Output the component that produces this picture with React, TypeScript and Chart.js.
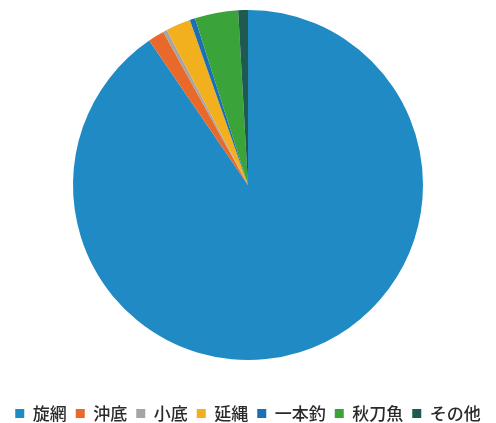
import React, { useEffect, useRef } from "react";
import { Chart, registerables } from "chart.js";

Chart.register(...registerables);

const categories = ["旋網", "沖底", "小底", "延縄", "一本釣", "秋刀魚", "その他"];
const shares = [90.6, 1.5, 0.36, 2.3, 0.5, 4.0, 0.9];
const sliceColors = ["#1F8AC4", "#E8692A", "#A5A5A5", "#F2B01E", "#1A6FB5", "#3AA33A", "#1E5A50"];

export default function App() {
  const ref = useRef<HTMLCanvasElement | null>(null);
  useEffect(() => {
    if (!ref.current) return;
    const chart = new Chart(ref.current, {
      type: "pie",
      data: {
        labels: categories,
        datasets: [
          {
            data: shares,
            backgroundColor: sliceColors,
            borderWidth: 0,
            radius: 175,
          },
        ],
      },
      options: {
        animation: false,
        responsive: true,
        maintainAspectRatio: false,
        layout: { padding: 0 },
        plugins: {
          tooltip: { enabled: false },
          legend: {
            position: "bottom",
            title: {
              display: true,
              text: "",
              font: { size: 10 },
              padding: { top: 7, bottom: 7 },
            },
            labels: {
              boxWidth: 9,
              boxHeight: 9,
              padding: 9,
              color: "#2a2a2a",
              font: { size: 17, weight: "500", family: "'Noto Sans CJK JP', 'Noto Sans', sans-serif" },
            },
          },
        },
      },
    });
    return () => chart.destroy();
  }, []);
  return (
    <div style={{ position: "fixed", left: 0, top: 0, width: 496, height: 432, background: "#fff" }}>
      <canvas ref={ref} />
    </div>
  );
}
